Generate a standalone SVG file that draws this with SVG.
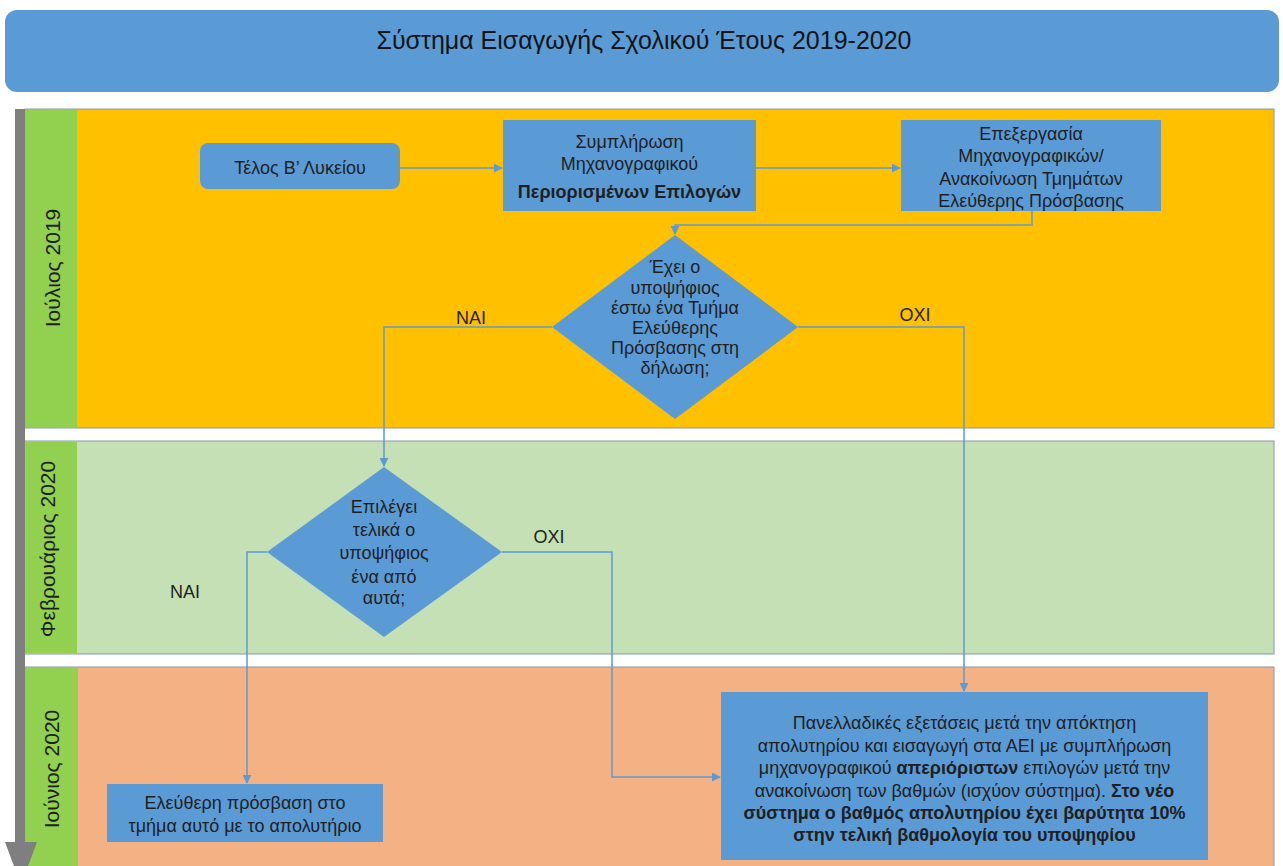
<svg xmlns="http://www.w3.org/2000/svg" width="1283" height="866" viewBox="0 0 1283 866">
<style>
text{font-family:"Liberation Sans",Arial,sans-serif;fill:#1f1f1f}
.t{font-size:18px;text-anchor:middle}
.b{font-weight:bold}
.lbl{font-size:18px;text-anchor:middle}
.lane-t{font-size:21px;text-anchor:middle}
.node{fill:#5B9BD5}
.lane{stroke:#8a9aa8;stroke-width:1}
.hdr{fill:#92D050}
.conn{fill:none;stroke:#5B9BD5;stroke-width:1.5}
</style>
<defs>
<marker id="arr" viewBox="0 0 10 10" refX="9" refY="5" markerWidth="9" markerHeight="9" markerUnits="userSpaceOnUse" orient="auto">
<path d="M0,0 L10,5 L0,10 z" fill="#5B9BD5"/>
</marker>
</defs>
<rect width="1283" height="866" fill="#ffffff"/>
<g id="title">
<rect x="5" y="10" width="1274" height="82" rx="12" fill="#5B9BD5"/>
<text x="644" y="49" style="font-size:25px;text-anchor:middle;fill:#141414">Σύστημα Εισαγωγής Σχολικού Έτους 2019-2020</text>
</g>
<g id="lane-july2019">
<rect class="lane" x="25" y="109" width="1249" height="319" fill="#FFC000"/>
<rect class="hdr" x="26" y="110" width="51" height="317"/>
<text class="lane-t" transform="translate(60,268) rotate(-90)">Ιούλιος 2019</text>
</g>
<g id="lane-feb2020">
<rect class="lane" x="25" y="441" width="1249" height="213" fill="#C5E0B4"/>
<rect class="hdr" x="26" y="442" width="51" height="211"/>
<text class="lane-t" transform="translate(55,549) rotate(-90)">Φεβρουάριος 2020</text>
</g>
<g id="lane-june2020">
<rect class="lane" x="25" y="667" width="1249" height="210" fill="#F4B183"/>
<rect class="hdr" x="26" y="668" width="52" height="200"/>
<text class="lane-t" transform="translate(59,769) rotate(-90)">Ιούνιος 2020</text>
</g>
<g id="timeline">
<rect x="15" y="109" width="10" height="734" fill="#7F7F7F"/>
<polygon points="5,842 37,842 21,885" fill="#7F7F7F"/>
</g>
<g id="connectors">
<path class="conn" d="M400,168 H502" marker-end="url(#arr)"/>
<path class="conn" d="M756,168 H900" marker-end="url(#arr)"/>
<path class="conn" d="M1032,211 V225 H675 V234" marker-end="url(#arr)"/>
<path class="conn" d="M552,327 H384 V466" marker-end="url(#arr)"/>
<path class="conn" d="M798,327 H964 V691" marker-end="url(#arr)"/>
<path class="conn" d="M267,552 H247 V783" marker-end="url(#arr)"/>
<path class="conn" d="M502,552 H612 V777 H720" marker-end="url(#arr)"/>
</g>
<g id="labels">
<text class="lbl" x="471" y="324">ΝΑΙ</text>
<text class="lbl" x="915" y="321">ΟΧΙ</text>
<text class="lbl" x="185" y="598">ΝΑΙ</text>
<text class="lbl" x="549" y="543">ΟΧΙ</text>
</g>
<g id="n-end-b">
<rect class="node" x="200" y="143" width="200" height="46" rx="8"/>
<text class="t" x="300" y="174">Τέλος Β’ Λυκείου</text>
</g>
<g id="n-fill-limited">
<rect class="node" x="503" y="120" width="253" height="91"/>
<text class="t" x="629.5" y="148">Συμπλήρωση</text>
<text class="t" x="629.5" y="170">Μηχανογραφικού</text>
<text class="t b" x="629.5" y="198">Περιορισμένων  Επιλογών</text>
</g>
<g id="n-processing">
<rect class="node" x="901" y="120" width="260" height="91"/>
<text class="t" x="1031" y="140">Επεξεργασία</text>
<text class="t" x="1031" y="162">Μηχανογραφικών/</text>
<text class="t" x="1031" y="185">Ανακοίνωση Τμημάτων</text>
<text class="t" x="1031" y="207">Ελεύθερης Πρόσβασης</text>
</g>
<g id="d-has-free">
<polygon class="node" points="675,235 798,327 675,419 552,327"/>
<text class="t" x="675" y="273">Έχει ο</text>
<text class="t" x="675" y="294">υποψήφιος</text>
<text class="t" x="675" y="314">έστω ένα Τμήμα</text>
<text class="t" x="675" y="334">Ελεύθερης</text>
<text class="t" x="675" y="354">Πρόσβασης στη</text>
<text class="t" x="675" y="374">δήλωση;</text>
</g>
<g id="d-chooses">
<polygon class="node" points="384,467 502,552 384,637 267,552"/>
<text class="t" x="384" y="513">Επιλέγει</text>
<text class="t" x="384" y="536">τελικά ο</text>
<text class="t" x="384" y="559">υποψήφιος</text>
<text class="t" x="384" y="583">ένα από</text>
<text class="t" x="384" y="604">αυτά;</text>
</g>
<g id="n-free-access">
<rect class="node" x="107" y="784" width="276" height="58"/>
<text class="t" x="245" y="809">Ελεύθερη πρόσβαση στο</text>
<text class="t" x="245" y="832">τμήμα αυτό με το απολυτήριο</text>
</g>
<g id="n-panhellenic">
<rect class="node" x="721" y="692" width="487" height="168"/>
<text class="t" x="964.5" y="729">Πανελλαδικές εξετάσεις μετά την απόκτηση</text>
<text class="t" x="964.5" y="751.5">απολυτηρίου και εισαγωγή στα ΑΕΙ με συμπλήρωση</text>
<text class="t" x="964.5" y="774">μηχανογραφικού <tspan class="b">απεριόριστων</tspan> επιλογών μετά την</text>
<text class="t" x="964.5" y="796.5">ανακοίνωση των βαθμών (ισχύον σύστημα). <tspan class="b">Στο νέο</tspan></text>
<text class="t b" x="964.5" y="819">σύστημα ο βαθμός απολυτηρίου έχει βαρύτητα 10%</text>
<text class="t b" x="964.5" y="841">στην τελική βαθμολογία του υποψηφίου</text>
</g>
</svg>
